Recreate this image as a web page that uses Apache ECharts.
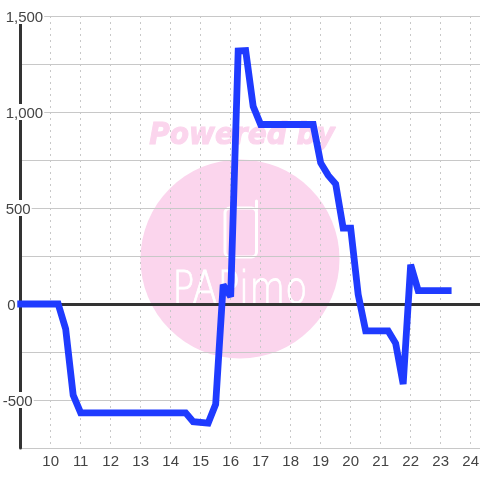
<!DOCTYPE html>
<html>
<head>
<meta charset="utf-8">
<style>html,body{margin:0;padding:0;background:#fff}#c{width:480px;height:480px}</style>
<script src="https://cdn.jsdelivr.net/npm/echarts@6/dist/echarts.min.js"></script>
</head>
<body>
<div id="c"></div>
<script>
var hours = [9,10.25,10.5,10.75,11,14.5,14.75,15.25,15.5,15.75,16,16.25,16.5,16.75,17,18.75,19,19.25,19.5,19.75,20,20.25,20.5,21.25,21.5,21.75,22,22.25,23.25];
var values = [0,0,-130,-474,-567,-567,-613,-620,-522,100,38,1318,1320,1030,935,935,735,670,625,395,395,50,-140,-140,-205,-417,205,70,70];
var yMin = -750, yMax = 1500, yStep = 250, yLabelStep = 500;
var xMin = 9, xMax = 24.311, xStep = 1;
var watermarkTitle = 'Powered by', watermarkBrand = 'PAPimo';

var pink = '#fbd5ed', ink = '#444444';
var chart = echarts.init(document.getElementById('c'), null, {renderer:'canvas'});
var base = {fontFamily:'"Liberation Sans"', fontSize:15, color:ink, lineHeight:13, backgroundColor:'#fff', height:13};
chart.setOption({
  animation:false,
  backgroundColor:'#fff',
  graphic:[
    {type:'circle', z:-10, shape:{cx:240,cy:259,r:99.5}, style:{fill:pink}},
    {type:'text', z:-9, x:242, y:136, scaleY:1.08, style:{text:watermarkTitle, font:'italic bold 28px "DejaVu Sans"', fill:pink, stroke:pink, lineWidth:1, align:'center', verticalAlign:'middle'}},
    {type:'rect', z:-9, shape:{x:225,y:208,width:31.5,height:49,r:5}, style:{fill:'none', stroke:'#fff', lineWidth:3}},
    {type:'polyline', z:-9, shape:{points:[[256.5,210],[256.5,201]]}, style:{fill:'none', stroke:'#fff', lineWidth:3, lineCap:'round'}},
    {type:'text', z:-9, x:240, y:291, scaleX:0.82, style:{text:watermarkBrand, font:'200 45px "DejaVu Sans"', fill:'#fff', stroke:'#fff', lineWidth:0.8, align:'center', verticalAlign:'middle'}}
  ],
  grid:{left:20.67, right:0, top:16, bottom:32, containLabel:false, outerBoundsMode:'none'},
  xAxis:[{
    type:'value', min:xMin, max:xMax, interval:xStep,
    axisLine:{show:false, onZero:false}, axisTick:{show:false},
    axisLabel:{margin:6, fontFamily:'"Liberation Sans"', fontSize:15, color:ink, showMaxLabel:false,
      formatter:function(v){return (v===xMin||v%1!==0)?'':String(v);}},
    splitLine:{show:true, showMinLine:false, showMaxLine:false, lineStyle:{color:'#c8c8c8', width:1, type:[2,4]}}
  },{
    type:'value', min:xMin, max:xMax, interval:xStep, position:'bottom',
    axisLine:{show:true, onZero:true, lineStyle:{color:'#333333', width:3}},
    axisTick:{show:false}, axisLabel:{show:false}, splitLine:{show:false}
  }],
  yAxis:{
    type:'value', min:yMin, max:yMax, interval:yStep,
    axisLine:{show:true, onZero:false, lineStyle:{color:'#333333', width:3}},
    axisTick:{show:false},
    axisLabel:{align:'left', margin:18, fontFamily:'"Liberation Sans"', fontSize:15, color:ink,
      formatter:function(v){
        if (v % yLabelStep !== 0) return '';
        var s = Math.abs(v).toLocaleString('en-US');
        if (v < 0) return '{n|-' + s + '}';
        if (v === 0) return '{z|0}';
        return '{p|' + s + '}';
      },
      rich:{
        n:Object.assign({}, base, {padding:[3,1,0,0]}),
        z:Object.assign({}, base, {padding:[3,1,0,4.5]}),
        p:Object.assign({}, base, {padding:[3,1,0,3]})
      }},
    splitLine:{show:true, lineStyle:{color:'#c8c8c8', width:1}}
  },
  series:[{
    type:'line', xAxisIndex:0, yAxisIndex:0, showSymbol:false, symbol:'none', smooth:false, z:5, clip:false,
    lineStyle:{color:'#1f3bff', width:6.8, cap:'square', join:'miter', miterLimit:3},
    data:hours.map(function(h,i){return [h,values[i]];})
  }]
});
</script>
</body>
</html>
